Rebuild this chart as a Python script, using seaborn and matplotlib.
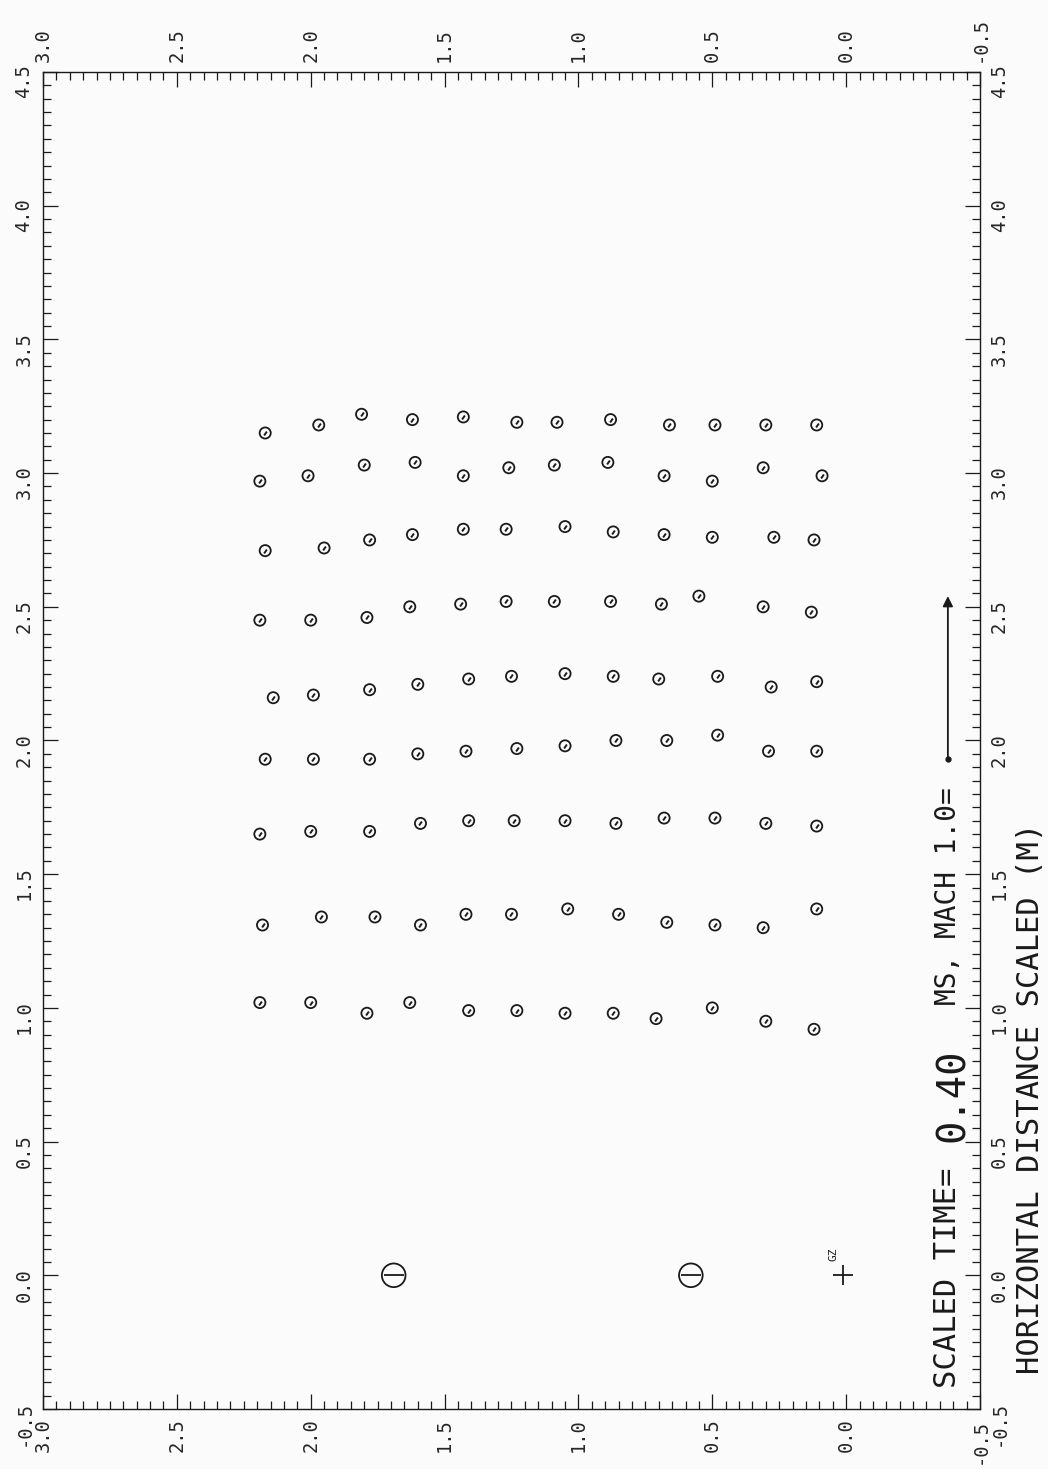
import pandas as pd
import matplotlib
matplotlib.use('Agg')
import matplotlib.pyplot as plt
import seaborn as sns
from matplotlib.ticker import MultipleLocator, FuncFormatter

# tracer positions, one list per row of the grid
# horizontal distance (m, scaled)
tracer_x = [
    [3.15, 3.18, 3.22, 3.20, 3.21, 3.19, 3.19, 3.20, 3.18, 3.18, 3.18, 3.18],
    [2.97, 2.99, 3.03, 3.04, 2.99, 3.02, 3.03, 3.04, 2.99, 2.97, 3.02, 2.99],
    [2.71, 2.72, 2.75, 2.77, 2.79, 2.79, 2.80, 2.78, 2.77, 2.76, 2.76, 2.75],
    [2.45, 2.45, 2.46, 2.50, 2.51, 2.52, 2.52, 2.52, 2.51, 2.54, 2.50, 2.48],
    [2.16, 2.17, 2.19, 2.21, 2.23, 2.24, 2.25, 2.24, 2.23, 2.24, 2.20, 2.22],
    [1.93, 1.93, 1.93, 1.95, 1.96, 1.97, 1.98, 2.00, 2.00, 2.02, 1.96, 1.96],
    [1.65, 1.66, 1.66, 1.69, 1.70, 1.70, 1.70, 1.69, 1.71, 1.71, 1.69, 1.68],
    [1.31, 1.34, 1.34, 1.31, 1.35, 1.35, 1.37, 1.35, 1.32, 1.31, 1.30, 1.37],
    [1.02, 1.02, 0.98, 1.02, 0.99, 0.99, 0.98, 0.98, 0.96, 1.00, 0.95, 0.92],
]
# vertical distance (m, scaled)
tracer_y = [
    [2.17, 1.97, 1.81, 1.62, 1.43, 1.23, 1.08, 0.88, 0.66, 0.49, 0.30, 0.11],
    [2.19, 2.01, 1.80, 1.61, 1.43, 1.26, 1.09, 0.89, 0.68, 0.50, 0.31, 0.09],
    [2.17, 1.95, 1.78, 1.62, 1.43, 1.27, 1.05, 0.87, 0.68, 0.50, 0.27, 0.12],
    [2.19, 2.00, 1.79, 1.63, 1.44, 1.27, 1.09, 0.88, 0.69, 0.55, 0.31, 0.13],
    [2.14, 1.99, 1.78, 1.60, 1.41, 1.25, 1.05, 0.87, 0.70, 0.48, 0.28, 0.11],
    [2.17, 1.99, 1.78, 1.60, 1.42, 1.23, 1.05, 0.86, 0.67, 0.48, 0.29, 0.11],
    [2.19, 2.00, 1.78, 1.59, 1.41, 1.24, 1.05, 0.86, 0.68, 0.49, 0.30, 0.11],
    [2.18, 1.96, 1.76, 1.59, 1.42, 1.25, 1.04, 0.85, 0.67, 0.49, 0.31, 0.11],
    [2.19, 2.00, 1.79, 1.63, 1.41, 1.23, 1.05, 0.87, 0.71, 0.50, 0.30, 0.12],
]

gauge_x = [0.0, 0.0]
gauge_y = [1.69, 0.58]
gz_x = [0.0]
gz_y = [0.01]

mach_arrow_x = [1.93, 2.54]   # tail, head
mach_arrow_y = -0.38

time_label = '0.40'

df = pd.DataFrame({
    'horizontal': [v for row in tracer_x for v in row],
    'vertical': [v for row in tracer_y for v in row],
})
gauges = pd.DataFrame({'horizontal': gauge_x, 'vertical': gauge_y})
gz = pd.DataFrame({'horizontal': gz_x, 'vertical': gz_y})

sns.set_style('white')
plt.rcParams['font.family'] = ['DejaVu Sans Mono']
plt.rcParams['axes.unicode_minus'] = False

ink = '#1a1a1a'
fig = plt.figure(figsize=(10.48, 14.69), dpi=100, facecolor='#fbfbfb')
ax = fig.add_axes([43 / 1048, 1 - 1409 / 1469, 937 / 1048, 1337 / 1469])
ax.set_facecolor('#fbfbfb')

# page is the plot turned a quarter turn: vertical distance runs across, horizontal distance runs up
sns.scatterplot(data=df, x='vertical', y='horizontal', marker='o', s=64,
                fc='none', ec=ink, linewidth=1.3, ax=ax, legend=False, zorder=3)
sns.scatterplot(data=df, x='vertical', y='horizontal', marker=(2, 0, -35), s=12,
                color=ink, ec=ink, linewidth=1.4, ax=ax, legend=False, zorder=3)

sns.scatterplot(data=gauges, x='vertical', y='horizontal', marker='o', s=290,
                fc='none', ec=ink, linewidth=1.3, ax=ax, legend=False, zorder=3)
sns.scatterplot(data=gauges, x='vertical', y='horizontal', marker='_', s=210,
                color=ink, ec=ink, linewidth=1.3, ax=ax, legend=False, zorder=3)
sns.scatterplot(data=gz, x='vertical', y='horizontal', marker='+', s=190,
                color=ink, ec=ink, linewidth=1.3, ax=ax, legend=False, zorder=3)
ax.annotate('GZ', xy=(gz_y[0], gz_x[0]), xytext=(-7, 10), textcoords='offset points',
            rotation=90, fontsize=8, ha='center', va='bottom', color=ink)

ax.set_xlim(3.0, -0.5)
ax.set_ylim(-0.5, 4.5)
fmt = FuncFormatter(lambda v, p: f'{round(v, 2) + 0.0:.1f}')
for axis in (ax.xaxis, ax.yaxis):
    axis.set_major_locator(MultipleLocator(0.5))
    axis.set_minor_locator(MultipleLocator(0.05))
    axis.set_major_formatter(fmt)
ax.tick_params(which='both', direction='in', top=True, right=True, bottom=True, left=True,
               labeltop=True, labelright=True, labelbottom=True, labelleft=True,
               color=ink, width=0.9)
ax.tick_params(which='major', length=11, labelsize=13.5, labelrotation=90, pad=7,
               labelcolor='#262626')
ax.tick_params(which='minor', length=5.5)
ax.set_xlabel('')
ax.set_ylabel('')
for s in ax.spines.values():
    s.set_color(ink)
    s.set_linewidth(1.0)

# time stamp and Mach 1.0 reference arrow
ax.text(mach_arrow_y, -0.42, 'SCALED TIME=', rotation=90, fontsize=22,
        ha='center', va='bottom', color=ink)
ax.text(mach_arrow_y - 0.02, 0.50, time_label, rotation=90, fontsize=28,
        ha='center', va='bottom', color=ink)
ax.text(mach_arrow_y, 1.01, 'MS, MACH 1.0=', rotation=90, fontsize=20,
        ha='center', va='bottom', color=ink)
ax.annotate('', xy=(mach_arrow_y, mach_arrow_x[1]), xytext=(mach_arrow_y, mach_arrow_x[0]),
            arrowprops=dict(arrowstyle='-|>', color=ink, lw=1.3, mutation_scale=15,
                            shrinkA=0, shrinkB=0))
ax.plot([mach_arrow_y], [mach_arrow_x[0]], 'o', ms=3.5, color=ink)

ax.text(-0.69, -0.37, 'HORIZONTAL DISTANCE SCALED (M)', rotation=90, fontsize=22,
        ha='center', va='bottom', color=ink, clip_on=False)

fig.savefig('out.png', dpi=100, facecolor=fig.get_facecolor())
